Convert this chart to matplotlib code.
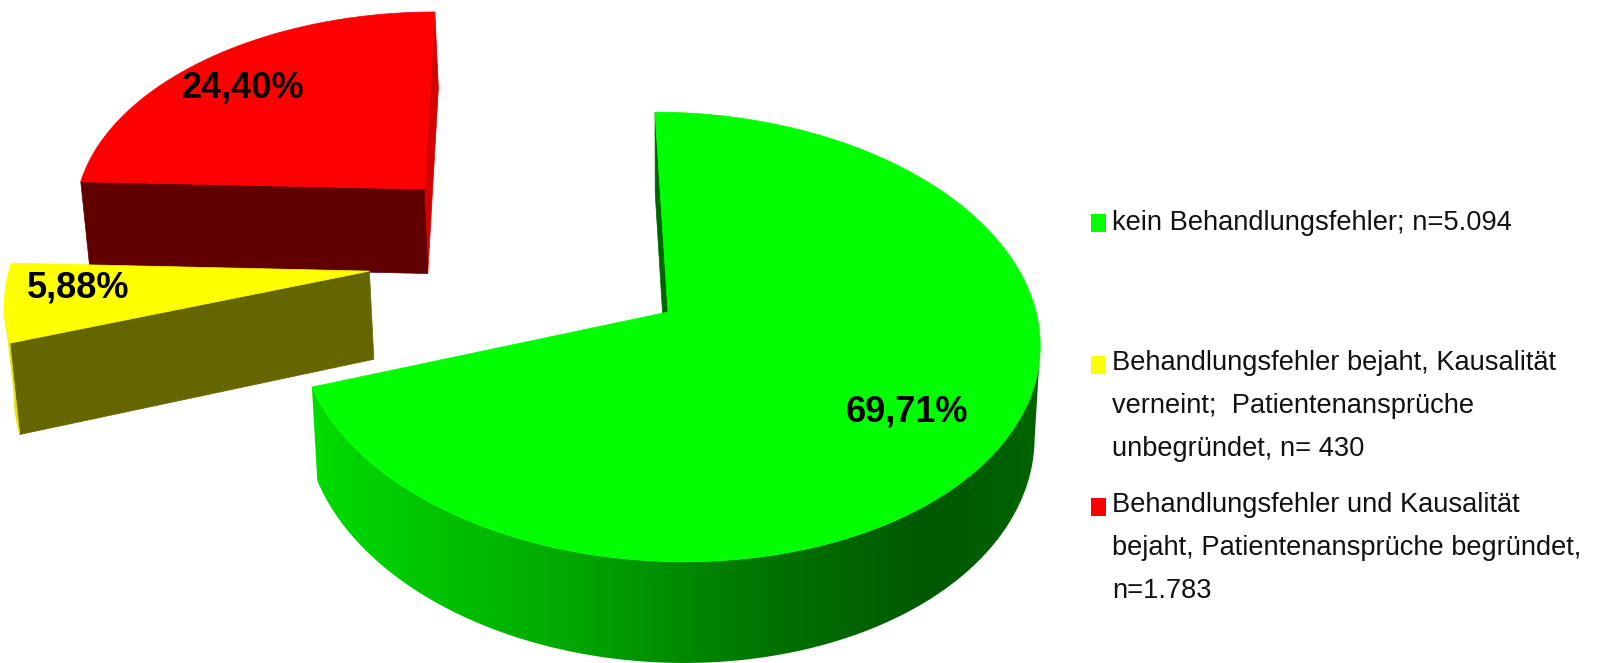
import numpy as np
import matplotlib
matplotlib.use("Agg")
import matplotlib.pyplot as plt
from matplotlib.patches import Polygon, Rectangle
from matplotlib.colors import LinearSegmentedColormap

# data
counts = [5094, 430, 1783]
label_heads = [
    "kein Behandlungsfehler; n=",
    "Behandlungsfehler bejaht, Kausalität\nverneint;  Patientenansprüche\nunbegründet, n= ",
    "Behandlungsfehler und Kausalität\nbejaht, Patientenansprüche begründet,\nn=",
]

# styling
top_colors = ["#00FF00", "#FFFF00", "#FF0000"]
end_face_colors = ["#006400", "#666600", "#600000"]
start_face_colors = ["#006400", "#666600", "#D40000"]
wall_colors = [None, "#E4E400", "#B40000"]
green_wall = LinearSegmentedColormap.from_list(
    "gw", [(0, "#00DC00"), (0.35, "#00A800"), (0.62, "#007400"),
           (0.85, "#005800"), (1.0, "#006400")])
explode = [(0.0, 0.0), (-0.821, 0.188), (-0.683, 0.59)]
label_pos = [(0.74, 0.0), (0.80, -2.8), (0.79, 2.6)]

# fake 3d geometry (pixel space)
cx, cy = 668, 312
rx, ry = 368, 222
persp = 0.111
shear = 0.065
conv = 0.015
depth = 90


def project(X, Y, z):
    d = 1 + persp * Y
    sy = cy - ry * Y / d
    sx = cx + rx * X / d + shear * (sy - cy)
    # sides converge slightly towards the bottom
    sx = cx + (sx - cx) * (1 - conv * z)
    sy = sy + depth * z / d
    return sx, sy


def area(pts):
    x, y = pts[:, 0], pts[:, 1]
    return np.sum(x * np.roll(y, -1) - np.roll(x, -1) * y)


fig = plt.figure(figsize=(16.22, 6.63), dpi=100)
ax = fig.add_axes([0, 0, 1, 1])

total = sum(counts)
fracs = [c / total for c in counts]

# slices clockwise from 12 o'clock, stored as ccw spans [a0, a1]
spans = []
end = 90.0
for f in fracs:
    start = end - 360 * f
    spans.append((start, end))
    end = start

order = [2, 1, 0]  # back to front
for i in order:
    a0, a1 = spans[i]
    ox, oy = explode[i]
    t = np.radians(np.linspace(a0, a1, 300))
    X = ox + np.cos(t)
    Y = oy + np.sin(t)
    tx, ty = project(X, Y, 0)
    bx, by = project(X, Y, 1)
    c0 = project(ox, oy, 0)
    c1 = project(ox, oy, 1)

    # radial faces
    for k, ang in enumerate([a0, a1]):
        r = np.radians(ang)
        p1 = project(ox + np.cos(r), oy + np.sin(r), 0)
        p2 = project(ox + np.cos(r), oy + np.sin(r), 1)
        quad = np.array([c0, p1, p2, c1])
        s = area(quad)
        visible = s > 0 if k == 0 else s < 0
        if visible:
            col = start_face_colors[i] if k == 0 else end_face_colors[i]
            ax.add_patch(Polygon(quad, closed=True, fc=col, ec=col, lw=0.5, zorder=1))

    # outer wall, only the part facing the viewer
    front = np.diff(tx) > 0
    front = np.append(front, front[-1])
    idx = np.where(front)[0]
    if len(idx) > 1:
        runs = np.split(idx, np.where(np.diff(idx) > 1)[0] + 1)
        for run in runs:
            if len(run) < 2:
                continue
            pts = np.vstack([np.column_stack([tx[run], ty[run]]),
                             np.column_stack([bx[run], by[run]])[::-1]])
            if wall_colors[i] is None:
                poly = Polygon(pts, closed=True, fc="none", ec="none", zorder=2)
                ax.add_patch(poly)
                x0, x1 = pts[:, 0].min(), pts[:, 0].max()
                grad = np.linspace(0, 1, 256).reshape(1, -1)
                im = ax.imshow(grad, extent=[x0, x1, pts[:, 1].max() + 2, pts[:, 1].min() - 2],
                               cmap=green_wall, aspect="auto", zorder=2, interpolation="bilinear")
                im.set_clip_path(poly)
            else:
                ax.add_patch(Polygon(pts, closed=True, fc=wall_colors[i],
                                     ec=wall_colors[i], lw=0.5, zorder=2))

    # top face
    top = np.vstack([[c0], np.column_stack([tx, ty])])
    ax.add_patch(Polygon(top, closed=True, fc=top_colors[i], ec=top_colors[i], lw=0.5, zorder=3))

    # percent label
    lr, dth = label_pos[i]
    mid = np.radians((a0 + a1) / 2 + dth)
    lx, ly = project(ox + lr * np.cos(mid), oy + lr * np.sin(mid), 0)
    pct = f"{100 * fracs[i]:.2f}%".replace(".", ",")
    ax.text(lx, ly, pct, ha="center", va="center", fontsize=26, fontweight="bold",
            family=["Liberation Sans", "DejaVu Sans"], color="black", zorder=5)

# legend, drawn by hand
leg_y = [223, 406, 548]
first_line_y = [223, 365, 507]
for i in range(3):
    n = f"{counts[i]:,}".replace(",", ".")
    ax.add_patch(Rectangle((1091, first_line_y[i] - 9), 15, 18, fc=top_colors[i], ec="none"))
    ax.text(1112, leg_y[i], label_heads[i] + n, ha="left", va="center", fontsize=19.6,
            family=["Liberation Sans", "DejaVu Sans"], linespacing=1.83, color="#111111")

ax.set_xlim(0, 1622)
ax.set_ylim(663, 0)
ax.set_aspect("auto")
ax.axis("off")
fig.savefig("out.png", dpi=100)
